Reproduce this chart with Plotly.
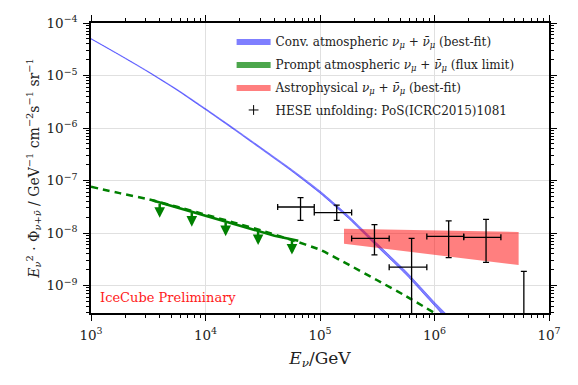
import numpy as np
import plotly.graph_objects as go

# --- conventional atmospheric numu (best-fit band) ---
conv_E = [1e3, 1.778e3, 3.162e3, 5.623e3, 1e4, 1.778e4, 3.162e4, 5.623e4,
          1e5, 1.778e5, 3.162e5, 5.623e5, 1e6, 1.413e6]
conv_hi = [5.07e-5, 2.49e-5, 1.194e-5, 5.48e-6, 2.35e-6, 9.84e-7, 4.03e-7, 1.648e-7,
           6.33e-8, 2.12e-8, 6.3e-9, 1.87e-9, 4.83e-10, 2.17e-10]
conv_lo = [4.95e-5, 2.42e-5, 1.156e-5, 5.26e-6, 2.23e-6, 9.27e-7, 3.76e-7, 1.524e-7,
           5.74e-8, 1.89e-8, 5.5e-9, 1.62e-9, 4.14e-10, 1.84e-10]

# --- prompt atmospheric (flux limit) ---
prompt_E = [1e3, 1.778e3, 3.162e3, 5.623e3, 1e4, 1.778e4, 3.162e4, 5.623e4,
            1e5, 1.778e5, 3.162e5, 5.623e5, 1e6]
prompt_flux = [7.6e-8, 5.75e-8, 4.4e-8, 3.16e-8, 2.24e-8, 1.58e-8, 1.1e-8, 7.4e-9,
               4.8e-9, 2.5e-9, 1.26e-9, 6.3e-10, 3.0e-10]
limit_E = [3.47e3, 6.5e3, 1.2e4, 2.2e4, 4.0e4, 6.46e4]
limit_flux = [4.17e-8, 2.8e-8, 1.9e-8, 1.3e-8, 8.9e-9, 7.1e-9]
arrow_E = [3.98e3, 7.59e3, 1.5e4, 2.88e4, 5.69e4]
arrow_top = [3.8e-8, 2.57e-8, 1.7e-8, 1.15e-8, 7.6e-9]
arrow_tip = [1.95e-8, 1.32e-8, 8.7e-9, 5.9e-9, 3.9e-9]

# --- astrophysical (best-fit band) ---
astro_E = [1.62e5, 1e6, 5.43e6]
astro_hi = [1.2e-8, 1.12e-8, 1.05e-8]
astro_lo = [6.24e-9, 3.85e-9, 2.45e-9]

# --- HESE unfolding ---
hese_E = [6.76e4, 1.40e5, 2.99e5, 6.31e5, 1.33e6, 2.82e6, 6.03e6]
hese_Elo = [4.27e4, 8.91e4, 1.89e5, 4.02e5, 8.57e5, 1.80e6, 3.80e6]
hese_Ehi = [8.91e4, 1.89e5, 4.02e5, 8.57e5, 1.80e6, 3.80e6, 7.94e6]
hese_flux = [3.13e-8, 2.45e-8, 7.9e-9, 2.24e-9, 8.6e-9, 8.3e-9, 1e-12]
hese_up = [4.73e-8, 3.39e-8, 1.45e-8, 7.9e-9, 1.7e-8, 1.82e-8, 1.86e-9]
hese_down = [1.74e-8, 1.74e-8, 3.85e-9, 1e-12, 3.39e-9, 2.75e-9, 1e-13]

BLUE = "rgba(0,0,255,0.5)"
GREEN = "#008000"
RED = "rgba(255,0,0,0.5)"
FONT = "DejaVu Serif"
NU = "<i>ν</i><sub><i>μ</i></sub> + <i>ν̄</i><sub><i>μ</i></sub>"

fig = go.Figure()

# conventional band
fig.add_scatter(x=conv_E + conv_E[::-1], y=conv_hi + conv_lo[::-1],
                fill="toself", fillcolor=BLUE, mode="lines",
                line=dict(color=BLUE, width=0.7, shape="spline", smoothing=0.6),
                showlegend=False, hoverinfo="skip")

# prompt
fig.add_scatter(x=prompt_E, y=prompt_flux, mode="lines",
                line=dict(color=GREEN, width=2.5, dash="7px,5px", shape="spline", smoothing=0.6),
                showlegend=False)
fig.add_scatter(x=limit_E, y=limit_flux, mode="lines",
                line=dict(color=GREEN, width=2.5), showlegend=False)

# astrophysical band
fig.add_scatter(x=astro_E + astro_E[::-1], y=astro_hi + astro_lo[::-1],
                fill="toself", fillcolor=RED, mode="lines",
                line=dict(width=0), showlegend=False, hoverinfo="skip")

# HESE points
fig.add_scatter(x=hese_E, y=hese_flux, mode="markers",
                marker=dict(size=1, color="black"),
                error_x=dict(type="data", symmetric=False,
                             array=[h - c for h, c in zip(hese_Ehi, hese_E)],
                             arrayminus=[c - l for l, c in zip(hese_Elo, hese_E)],
                             color="black", thickness=1.3, width=3),
                error_y=dict(type="data", symmetric=False,
                             array=[u - c for u, c in zip(hese_up, hese_flux)],
                             arrayminus=[c - d for d, c in zip(hese_down, hese_flux)],
                             color="black", thickness=1.3, width=3),
                showlegend=False)

# legend entries
legend_items = [
    ("Conv. atmospheric " + NU + " (best-fit)", "rgba(0,0,255,0.5)"),
    ("Prompt atmospheric " + NU + " (flux limit)", "rgba(0,128,0,0.7)"),
    ("Astrophysical " + NU + " (best-fit)", RED),
]
for i, (name, col) in enumerate(legend_items):
    fig.add_scatter(x=[None], y=[None], fill="toself", fillcolor=col,
                    mode="lines", line=dict(width=0), name=name, legendgroup=f"g{i}")
fig.add_scatter(x=[None], y=[None], mode="markers",
                marker=dict(symbol="cross-thin", size=7, line=dict(color="black", width=1)),
                name="HESE unfolding: PoS(ICRC2015)1081", legendgroup="g3")

# upper-limit arrows
for e, t, b in zip(arrow_E, arrow_top, arrow_tip):
    fig.add_annotation(x=np.log10(e), y=np.log10(b), ax=np.log10(e), ay=np.log10(t),
                       xref="x", yref="y", axref="x", ayref="y", text="",
                       showarrow=True, arrowhead=2, arrowsize=0.85, arrowwidth=2.5,
                       arrowcolor=GREEN, standoff=0, startstandoff=0)

fig.add_annotation(x=0.015, y=0.055, xref="paper", yref="paper", xanchor="left",
                   yanchor="middle", text="IceCube Preliminary", showarrow=False,
                   font=dict(family=FONT, size=13, color="#ff1a1a"))

xt = [1e3, 1e4, 1e5, 1e6, 1e7]
yt = [1e-9, 1e-8, 1e-7, 1e-6, 1e-5, 1e-4]
xminor = [m * 10 ** d for d in range(3, 7) for m in range(2, 10)]
yminor = [m * 10 ** d for d in range(-10, -4) for m in range(2, 10)]

axis_common = dict(type="log", showline=True, linecolor="black", linewidth=1.5,
                   mirror="allticks", ticks="outside", ticklen=6, tickwidth=1,
                   tickcolor="black", showgrid=True, gridcolor="#e0e0e0", gridwidth=1,
                   zeroline=False, automargin=False, ticklabelstandoff=3,
                   tickfont=dict(family=FONT, size=13.5, color="#222"))

fig.update_xaxes(range=[3, 7], tickmode="array", tickvals=xt,
                 ticktext=["10<sup>3</sup>", "10<sup>4</sup>", "10<sup>5</sup>",
                           "10<sup>6</sup>", "10<sup>7</sup>"],
                 minor=dict(tickmode="array", tickvals=xminor, ticks="outside",
                            ticklen=3, tickcolor="black", showgrid=False),
                 title=dict(text="<i>E</i><sub><i>ν</i></sub>/GeV", standoff=10,
                            font=dict(family=FONT, size=17, color="#222")),
                 **axis_common)
fig.update_yaxes(range=[-9.523, -4], tickmode="array", tickvals=yt,
                 ticktext=["10<sup>−9</sup>", "10<sup>−8</sup>", "10<sup>−7</sup>",
                           "10<sup>−6</sup>", "10<sup>−5</sup>", "10<sup>−4</sup>"],
                 minor=dict(tickmode="array", tickvals=yminor, ticks="outside",
                            ticklen=3, tickcolor="black", showgrid=False),
                 title=dict(text="<i>E</i><sub><i>ν</i></sub><sup>2</sup> · Φ<sub><i>ν</i>+<i>ν̄</i></sub> / GeV<sup>−1</sup> cm<sup>−2</sup>s<sup>−1</sup> sr<sup>−1</sup>",
                            standoff=4, font=dict(family=FONT, size=14, color="#222")),
                 **axis_common)

# page body adds an 8px offset, so the figure is sized 8px smaller
fig.update_layout(width=570, height=377, template="none",
                  paper_bgcolor="white", plot_bgcolor="white",
                  margin=dict(l=83, r=29, t=15, b=72),
                  font=dict(family=FONT, size=13, color="#222"),
                  legend=dict(x=0.307, y=0.988, xanchor="left", yanchor="top",
                              bgcolor="rgba(0,0,0,0)", borderwidth=0,
                              font=dict(family=FONT, size=12, color="#222"),
                              tracegroupgap=4, itemwidth=34))

fig.write_html("out.html")
